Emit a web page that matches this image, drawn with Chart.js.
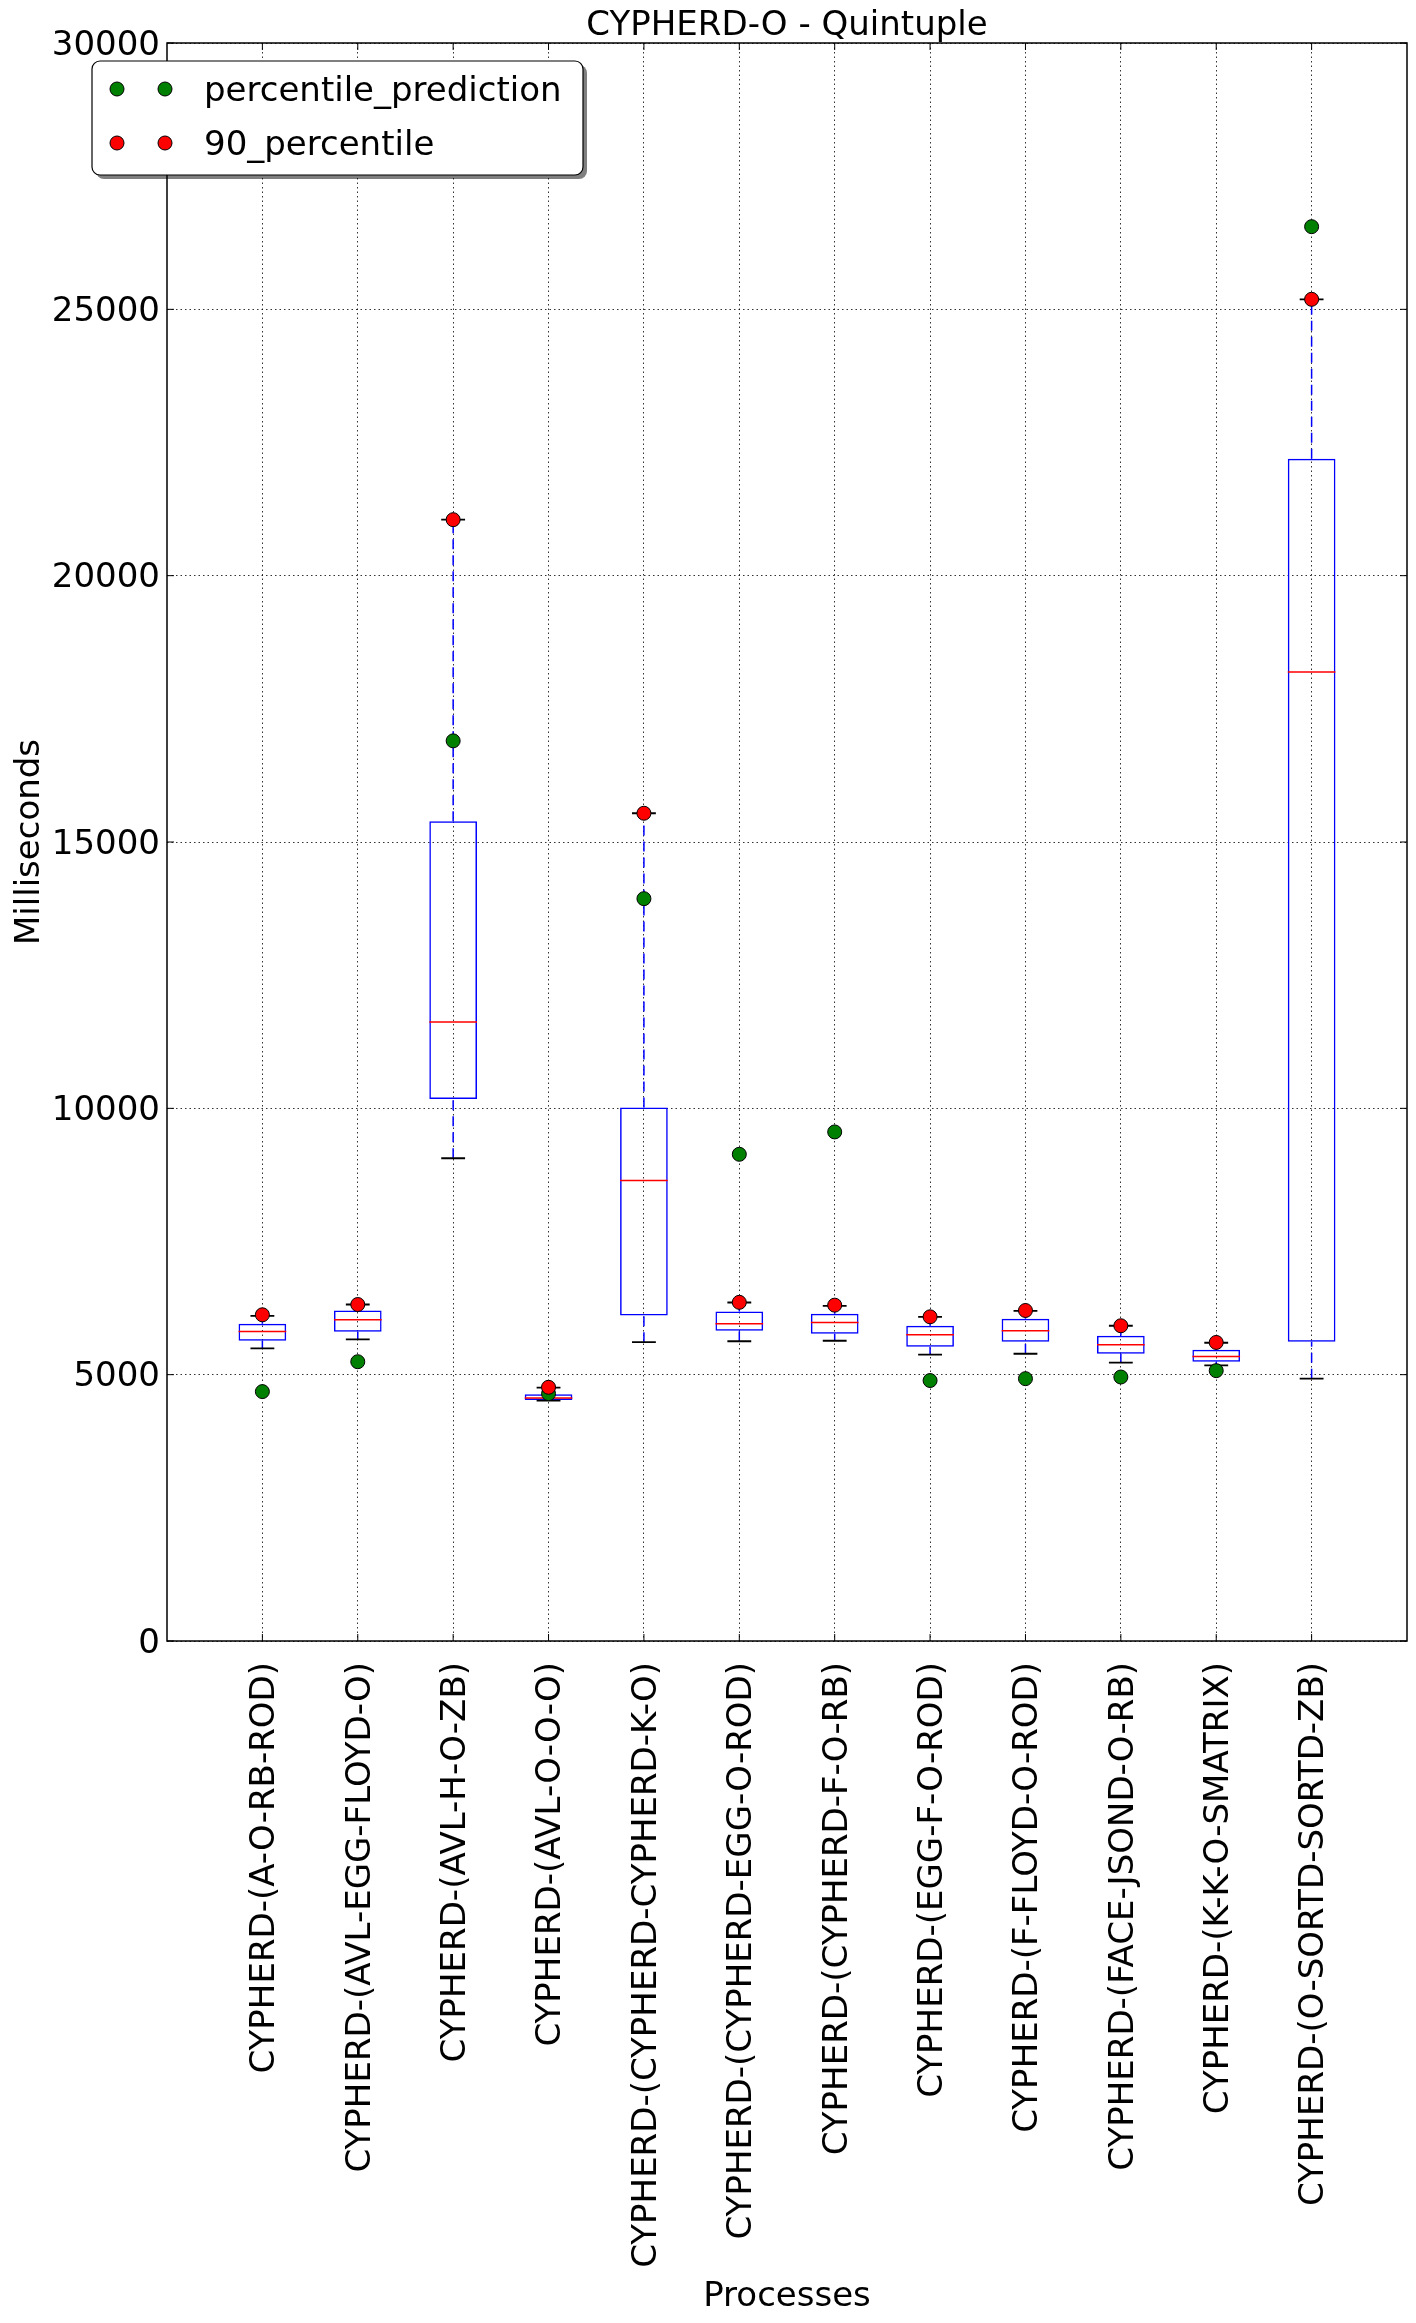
<!DOCTYPE html>
<html>
<head>
<meta charset="utf-8">
<title>CYPHERD-O - Quintuple</title>
<script src="https://cdn.jsdelivr.net/npm/chart.js@4.4.1/dist/chart.umd.min.js"></script>
<style>
  html, body { margin: 0; padding: 0; background: #fff; }
  #chart { display: block; }
</style>
</head>
<body>
<canvas id="chart" width="1416" height="2323"></canvas>
<script>
const categories = [
  "CYPHERD-(A-O-RB-ROD)",
  "CYPHERD-(AVL-EGG-FLOYD-O)",
  "CYPHERD-(AVL-H-O-ZB)",
  "CYPHERD-(AVL-O-O-O)",
  "CYPHERD-(CYPHERD-CYPHERD-K-O)",
  "CYPHERD-(CYPHERD-EGG-O-ROD)",
  "CYPHERD-(CYPHERD-F-O-RB)",
  "CYPHERD-(EGG-F-O-ROD)",
  "CYPHERD-(F-FLOYD-O-ROD)",
  "CYPHERD-(FACE-JSOND-O-RB)",
  "CYPHERD-(K-K-O-SMATRIX)",
  "CYPHERD-(O-SORTD-SORTD-ZB)"
];

// box plot statistics (ms)
const whiskerLow  = [5493, 5662,  9063, 4513,  5610, 5627, 5637, 5375, 5393, 5225, 5175,  4925];
const q1          = [5637, 5805, 10175, 4526,  6110, 5824, 5768, 5524, 5618, 5393, 5243,  5618];
const median      = [5811, 6030, 11621, 4563,  8647, 5955, 5980, 5749, 5824, 5562, 5343, 18191];
const q3          = [5955, 6205, 15390, 4632, 10016, 6184, 6142, 5918, 6049, 5730, 5468, 22196];
const whiskerHigh = [6105, 6317, 21051, 4757, 15540, 6355, 6292, 6086, 6199, 5918, 5599, 25188];

// scatter series
const percentile90 = [6124, 6317, 21051, 4763, 15540, 6358, 6305, 6086, 6205, 5918, 5605, 25188];
const prediction   = [4682, 5243, 16899, 4644, 13936, 9137, 9557, 4890, 4925, 4956, 5075, 26552];

const yTicks = [0, 5000, 10000, 15000, 20000, 25000, 30000];

Chart.defaults.font.family = "'DejaVu Sans', sans-serif";
Chart.defaults.font.size = 34;
Chart.defaults.color = '#000';

const BOX_W = 0.5;   // in x units
const CAP_W = 0.25;
const positions = categories.map((c, i) => i + 1);

const whiskerData = [];
const capData = [];
const medianData = [];
positions.forEach((x, i) => {
  whiskerData.push({x, y: q3[i]}, {x, y: whiskerHigh[i]}, {x, y: null});
  whiskerData.push({x, y: whiskerLow[i]}, {x, y: q1[i]}, {x, y: null});
  capData.push({x: x - CAP_W / 2, y: whiskerHigh[i]}, {x: x + CAP_W / 2, y: whiskerHigh[i]}, {x: x + CAP_W / 2, y: null});
  capData.push({x: x - CAP_W / 2, y: whiskerLow[i]}, {x: x + CAP_W / 2, y: whiskerLow[i]}, {x: x + CAP_W / 2, y: null});
  medianData.push({x: x - BOX_W / 2, y: median[i]}, {x: x + BOX_W / 2, y: median[i]}, {x: x + BOX_W / 2, y: null});
});

// frame and inward tick marks, like matplotlib's classic axes
const framePlugin = {
  id: 'frame',
  afterDatasetsDraw(chart) {
    const {ctx, chartArea: a, scales: {x, y}} = chart;
    const len = 7;
    ctx.save();
    ctx.strokeStyle = '#000';
    ctx.lineWidth = 1;
    ctx.beginPath();
    y.ticks.forEach(t => {
      const py = y.getPixelForValue(t.value);
      ctx.moveTo(a.left, py); ctx.lineTo(a.left + len, py);
      ctx.moveTo(a.right, py); ctx.lineTo(a.right - len, py);
    });
    x.ticks.forEach(t => {
      const px = x.getPixelForValue(t.value);
      ctx.moveTo(px, a.bottom); ctx.lineTo(px, a.bottom - len);
      ctx.moveTo(px, a.top); ctx.lineTo(px, a.top + len);
    });
    ctx.stroke();
    ctx.lineWidth = 1.5;
    ctx.strokeRect(a.left, a.top, a.right - a.left, a.bottom - a.top);
    ctx.restore();
  }
};

// matplotlib style legend: two markers per entry, rounded box with shadow
const mplLegend = {
  id: 'mplLegend',
  afterDraw(chart, args, opts) {
    const {ctx} = chart;
    const items = chart.data.datasets.filter(d => d.inLegend).sort((a, b) => a.legendIndex - b.legendIndex);
    const b = opts.box;
    ctx.save();
    const rr = (x, y, w, h, r) => {
      ctx.beginPath();
      ctx.roundRect(x, y, w, h, r);
    };
    rr(b.left + 4, b.top + 4, b.width, b.height, 8);
    ctx.fillStyle = 'rgba(0,0,0,0.5)';
    ctx.fill();
    rr(b.left, b.top, b.width, b.height, 8);
    ctx.fillStyle = '#fff';
    ctx.fill();
    ctx.strokeStyle = '#000';
    ctx.lineWidth = 1.2;
    ctx.stroke();
    items.forEach((d, i) => {
      const cy = opts.rowY[i];
      opts.dotX.forEach(dx => {
        ctx.beginPath();
        ctx.arc(dx, cy, d.pointRadius, 0, Math.PI * 2);
        ctx.fillStyle = d.backgroundColor;
        ctx.fill();
        ctx.lineWidth = 1;
        ctx.strokeStyle = '#000';
        ctx.stroke();
      });
      ctx.fillStyle = '#000';
      ctx.font = "34px 'DejaVu Sans', sans-serif";
      ctx.textBaseline = 'middle';
      ctx.textAlign = 'left';
      ctx.fillText(d.label, opts.textX, cy + 3);
    });
    ctx.restore();
  }
};

new Chart(document.getElementById('chart'), {
  type: 'bar',
  data: {
    datasets: [
      {
        type: 'scatter',
        label: '90_percentile',
        inLegend: true, legendIndex: 1,
        data: positions.map((x, i) => ({x, y: percentile90[i]})),
        backgroundColor: '#ff0000',
        borderColor: '#000',
        borderWidth: 1,
        pointRadius: 7,
        order: 0
      },
      {
        type: 'scatter',
        label: 'percentile_prediction',
        inLegend: true, legendIndex: 0,
        data: positions.map((x, i) => ({x, y: prediction[i]})),
        backgroundColor: '#008000',
        borderColor: '#000',
        borderWidth: 1,
        pointRadius: 7,
        order: 1
      },
      {
        type: 'line',
        label: 'caps',
        data: capData,
        borderColor: '#000',
        borderWidth: 1.8,
        pointRadius: 0,
        spanGaps: false,
        order: 2
      },
      {
        type: 'line',
        label: 'medians',
        data: medianData,
        borderColor: '#ff0000',
        borderWidth: 1.5,
        pointRadius: 0,
        spanGaps: false,
        order: 3
      },
      {
        type: 'line',
        label: 'whiskers',
        data: whiskerData,
        borderColor: '#0000ff',
        borderWidth: 1.5,
        borderDash: [10, 6],
        pointRadius: 0,
        spanGaps: false,
        order: 4
      },
      {
        type: 'bar',
        label: 'boxes',
        data: positions.map((x, i) => ({x, y: [q1[i], q3[i]]})),
        backgroundColor: 'rgba(0,0,0,0)',
        borderColor: '#0000ff',
        borderWidth: 1.5,
        borderSkipped: false,
        barPercentage: BOX_W,
        categoryPercentage: 1,
        order: 5
      }
    ]
  },
  options: {
    responsive: false,
    animation: false,
    devicePixelRatio: 1,
    events: [],
    layout: { padding: { left: 0, right: 9, top: 0, bottom: 0 } },
    plugins: {
      legend: { display: false },
      tooltip: { enabled: false },
      title: {
        display: true,
        text: 'CYPHERD-O - Quintuple',
        fullSize: false,
        font: { size: 34, weight: 'normal', lineHeight: 1 },
        padding: { top: 9, bottom: 0 }
      },
      mplLegend: {
        box: { left: 92, top: 61, width: 491, height: 114 },
        dotX: [117, 165],
        rowY: [89, 143],
        textX: 204
      }
    },
    scales: {
      x: {
        type: 'linear',
        min: 0,
        max: categories.length + 1,
        offset: false,
        afterBuildTicks: (scale) => {
          scale.ticks = positions.map(v => ({value: v}));
        },
        afterFit: (scale) => { scale.height = 682; },
        ticks: {
          autoSkip: false,
          minRotation: 90,
          maxRotation: 90,
          padding: 21,
          labelOffset: 3,
          callback: (v) => categories[v - 1] || ''
        },
        grid: {
          offset: false,
          drawTicks: false,
          color: 'rgba(0,0,0,0.8)',
          lineWidth: 1
        },
        border: { display: false, dash: [1.5, 3] },
        title: {
          display: true,
          text: 'Processes',
          padding: { top: 0, bottom: 5 }
        }
      },
      y: {
        min: yTicks[0],
        max: yTicks[yTicks.length - 1],
        afterBuildTicks: (scale) => {
          scale.ticks = yTicks.map(v => ({value: v}));
        },
        afterFit: (scale) => { scale.width = 167; },
        ticks: {
          padding: 7,
          labelOffset: 3,
          callback: (v) => String(v)
        },
        grid: {
          drawTicks: false,
          color: 'rgba(0,0,0,0.8)',
          lineWidth: 1
        },
        border: { display: false, dash: [1.5, 3] },
        title: {
          display: true,
          text: 'Milliseconds',
          padding: { top: 10, bottom: 0 }
        }
      }
    }
  },
  plugins: [framePlugin, mplLegend]
});
</script>
</body>
</html>
